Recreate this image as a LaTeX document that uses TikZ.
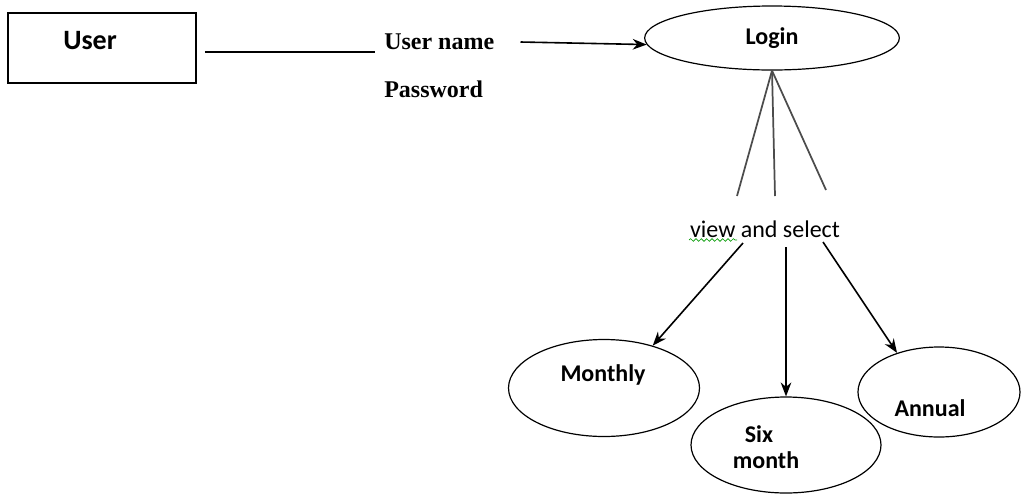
\documentclass[tikz,border=0pt]{standalone}
\usepackage{fontspec}
\setmainfont{Carlito}
\newfontfamily\formfont{Liberation Serif}
\usetikzlibrary{shapes.geometric,arrows.meta,decorations.pathmorphing}

\tikzstyle{userBox} = [rectangle, minimum width=141pt, minimum height=52.5pt, draw=black, line width=1.2pt]
\tikzstyle{oval} = [ellipse, draw=black, line width=0.9pt, inner sep=0pt]
\tikzstyle{lbl} = [font=\fontsize{18}{19.5}\selectfont\bfseries, inner sep=0pt]
\tikzstyle{formTxt} = [font=\fontsize{18}{21}\selectfont\formfont\bfseries, inner sep=0pt, anchor=west]
\tikzstyle{link} = [line width=1.3pt, draw=black!70]
\tikzstyle{arrow} = [line width=1.2pt,->,>={Stealth[length=10.5pt,width=8pt]}]

\begin{document}
\begin{tikzpicture}[x=0.75pt,y=-0.75pt]
    \useasboundingbox (0,0) rectangle (1021,494);

    % user and login data
    \node (user)[userBox] at (102,48) {};
    \node (userTxt)[lbl, font=\fontsize{21}{24}\selectfont\bfseries] at (90,41) {User};
    \node (uname)[formTxt] at (384,42) {User name};
    \node (pwd)[formTxt] at (384,89) {Password};
    \node (login)[oval, lbl, minimum width=191pt, minimum height=48pt] at (772,38) {Login};

    % choice
    \node (view)[font=\fontsize{18}{21}\selectfont, inner sep=0pt] at (765,229) {view and select};
    \coordinate (tL) at (737,196);
    \coordinate (tM) at (775,196);
    \coordinate (tR) at (826,190);
    \coordinate (sL) at (743,243);
    \coordinate (sM) at (786,247);
    \coordinate (sR) at (823,242);

    % plans
    \node (monthly)[oval, minimum width=143.25pt, minimum height=72.75pt] at (604,388) {};
    \node (monthlyTxt)[lbl] at (603,375) {Monthly};
    \node (six)[oval, minimum width=142.5pt, minimum height=72pt] at (786,445) {};
    \node (sixTxt)[lbl, align=left] at (766,447) {\hspace*{9pt}Six\\month};
    \node (annual)[oval, minimum width=121.5pt, minimum height=67.5pt] at (939,392) {};
    \node (annualTxt)[lbl] at (930,408) {Annual};

    \draw [line width=1pt] ([xshift=6pt,yshift=-3pt]user.east) -- ([xshift=-7pt,yshift=-7.5pt]uname.west);
    \draw [arrow] ([xshift=19.5pt]uname.east) -- (login.183);
    \draw [link] (login.south) -- (tL);
    \draw [link] (login.south) -- (tM);
    \draw [link] (login.south) -- (tR);
    \draw [arrow] (sL) -- (monthly.41);
    \draw [arrow] (sM) -- (six.north);
    \draw [arrow] (sR) -- (annual.137);
    \draw [green!60!black, line width=0.5pt, decorate, decoration={snake, amplitude=1pt, segment length=4pt}] (689,240) -- (737,240);

\end{tikzpicture}
\end{document}
